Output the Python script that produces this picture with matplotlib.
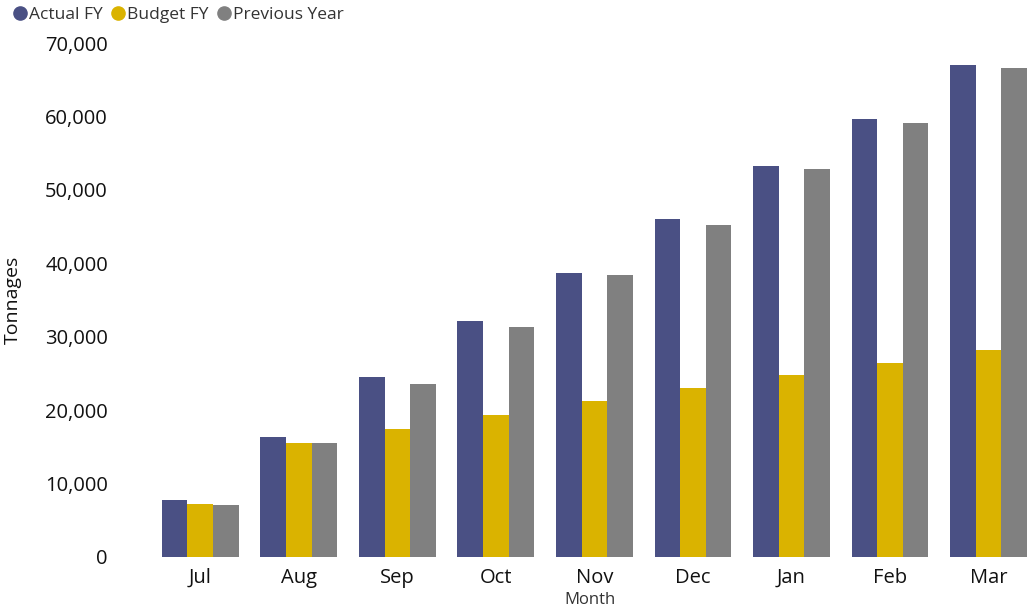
#!/usr/bin/env python

import numpy as np
import matplotlib.pyplot as plt
from matplotlib.lines import Line2D
from matplotlib.ticker import FuncFormatter

MONTHS = ['Jul', 'Aug', 'Sep', 'Oct', 'Nov', 'Dec', 'Jan', 'Feb', 'Mar']
ACTUAL = [7820, 16350, 24520, 32150, 38690, 46050, 53270, 59670, 66980]
BUDGET = [7270, 15530, 17440, 19350, 21250, 23020, 24800, 26430, 28200]
PREVIOUS = [7090, 15500, 23570, 31330, 38420, 45230, 52860, 59130, 66530]

SERIES = ['Actual FY', 'Budget FY', 'Previous Year']
COLORS = ['#4a5084', '#dab300', '#808080']


def main() -> None:
    plt.rcParams['font.family'] = ['Open Sans', 'DejaVu Sans']

    fig = plt.figure(figsize=(10.28, 6.10), dpi=100)
    ax = fig.add_axes([151 / 1028, 53 / 610, 877 / 1028, 514 / 610])

    x = np.arange(len(MONTHS))
    w = 0.26
    for i, (vals, col) in enumerate(zip([ACTUAL, BUDGET, PREVIOUS], COLORS)):
        ax.bar(x + (i - 1) * w, vals, width=w, color=col, edgecolor='none')

    ax.set_xlim(-0.5, 8.4)
    ax.set_ylim(0, 70000)
    ax.set_yticks(np.arange(0, 70001, 10000))
    ax.yaxis.set_major_formatter(FuncFormatter(lambda v, p: f'{int(v):,}'))
    ax.set_xticks(x)
    ax.set_xticklabels(MONTHS)
    ax.tick_params(axis='both', length=0, labelsize=14.5, colors='#111111')
    ax.tick_params(axis='y', pad=31)
    ax.tick_params(axis='x', pad=8)
    for s in ax.spines.values():
        s.set_visible(False)

    ax.set_xlabel('Month', fontsize=12, color='#333333', labelpad=3)
    fig.text(0.004, 0.508, 'Tonnages', rotation=90, fontsize=14,
             va='center', ha='left', color='#111111')

    handles = [Line2D([], [], marker='o', linestyle='none', markersize=9.5,
                      color=c) for c in COLORS]
    fig.legend(handles, SERIES, loc='upper left', bbox_to_anchor=(-0.004, 1.015),
               ncol=3, frameon=False, fontsize=12.5, handletextpad=0.0,
               columnspacing=0.4, handlelength=1.0, labelcolor='#333333')

    fig.savefig('out.png', dpi=100)


if __name__ == '__main__':
    main()
